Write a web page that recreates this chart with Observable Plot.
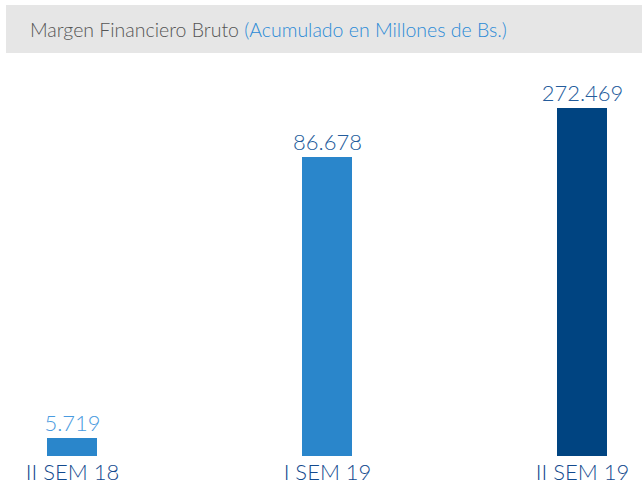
<!DOCTYPE html>
<html>
<head>
<meta charset="utf-8">
<script src="https://cdn.jsdelivr.net/npm/d3@7"></script>
<script src="https://cdn.jsdelivr.net/npm/@observablehq/plot@0.6"></script>
<style>
  html, body { margin: 0; padding: 0; background: #fff; }
  body { width: 642px; height: 503px; overflow: hidden; font-family: Lato, "Open Sans", sans-serif; }
  #title {
    margin: 5px 0 0 6px; height: 48px; background: #e6e6e6;
    box-sizing: border-box; padding: 13px 0 0 24px;
    font-size: 19.5px; font-weight: 300; color: #555; white-space: nowrap;
  }
  #title span { color: #2b8ad6; }
</style>
</head>
<body>
<div id="title">Margen Financiero Bruto <span>(Acumulado en Millones de Bs.)</span></div>
<div id="chart"></div>
<script>
const categories = ["II SEM 18", "I SEM 19", "II SEM 19"];
const values = [5719, 86678, 272469];
const valueLabels = ["5.719", "86.678", "272.469"];
const barColors = ["#2a86cb", "#2a86cb", "#004481"];
const labelColors = ["#4a9be0", "#245c9c", "#245c9c"];

const data = categories.map((c, i) => ({
  cat: c, value: values[i], label: valueLabels[i], fill: barColors[i], lc: labelColors[i]
}));

const chart = Plot.plot({
  width: 642,
  height: 450,
  marginLeft: 46,
  marginRight: 35,
  marginTop: 0,
  marginBottom: 47,
  style: { fontFamily: "Lato, 'Open Sans', sans-serif", background: "#fff" },
  x: { domain: categories, paddingInner: 0.804, paddingOuter: 0, axis: null },
  y: { type: "linear", domain: [0, 5719, 86678, 272469], range: [403, 385, 104, 55], axis: null },
  marks: [
    Plot.barY(data, { x: "cat", y: "value", fill: d => d.fill }),
    Plot.text(data, { x: "cat", y: "value", text: "label", fill: d => d.lc, lineAnchor: "bottom", dy: -8, fontSize: 22, fontWeight: 300 }),
    Plot.axisX({ tickSize: 0, tickPadding: 8, fontSize: 22, fontWeight: 300, color: "#134a8e", label: null })
  ]
});
document.getElementById("chart").appendChild(chart);
</script>
</body>
</html>
